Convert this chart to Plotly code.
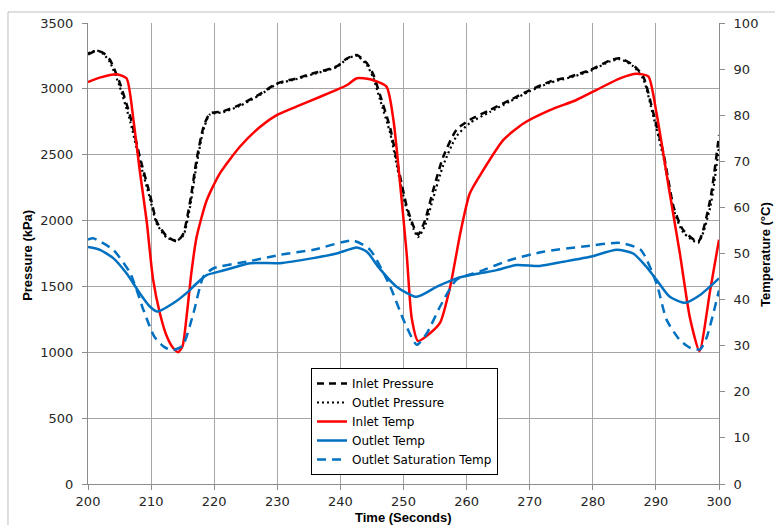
import plotly.graph_objects as go

# ---------------- data ----------------
t_inlet_p = [200, 201.4, 202.5, 203.5, 205.0, 206.7, 208.2, 209.8, 210.9, 212.5, 214.1, 215.1, 216.2, 217.2,
             218.3, 219.3, 221.4, 224.1, 227.3, 229.9, 233.1, 235.7, 239.4, 241.0, 242.6, 244.2, 245.2,
             246.3, 247.9, 249.4, 250.5, 251.6, 252.3, 253.4, 254.7, 256.3, 258.4, 260.5, 263.7, 266.9,
             270.0, 273.2, 276.4, 279.6, 282.7, 284.3, 286.4, 288.0, 289.6, 291.2, 292.8, 294.3, 296.7,
             298.6, 300]
inlet_pressure = [3262, 3290, 3270, 3219, 3050, 2790, 2485, 2200, 1990, 1880, 1842, 1900, 2150, 2460,
                  2710, 2812, 2830, 2880, 2962, 3040, 3080, 3118, 3170, 3230, 3257, 3194, 3110,
                  2950, 2700, 2350, 2110, 1955, 1892, 2000, 2230, 2485, 2690, 2765, 2840, 2915,
                  2990, 3055, 3093, 3143, 3215, 3232, 3181, 3093, 2815, 2511, 2105, 1930, 1840,
                  2157, 2650]

outlet_pressure = [3268, 3292, 3262, 3200, 3020, 2750, 2450, 2170, 1975, 1870, 1850, 1885, 2110, 2420,
                   2690, 2805, 2822, 2872, 2955, 3035, 3075, 3112, 3165, 3225, 3252, 3180, 3085,
                   2915, 2660, 2310, 2085, 1935, 1875, 1960, 2170, 2420, 2640, 2740, 2825, 2905,
                   2982, 3046, 3086, 3136, 3208, 3225, 3172, 3075, 2790, 2480, 2085, 1912, 1832,
                   2100, 2560]

t_inlet_t = [200, 202, 204.5, 206.1, 207.2, 208.2, 209.3, 210.3, 211.4, 212.5, 213.5, 214.3, 215.0, 215.6,
             216.4, 217.2, 218.8, 220.9, 224.1, 227.3, 229.9, 233.1, 236.8, 239.4, 241.0, 242.6, 244.7,
             247.3, 248.4, 249.4, 250.5, 251.3, 252.3, 254.2, 255.8, 257.4, 259.0, 260.5, 262.6, 265.8,
             269.0, 273.2, 277.4, 280.6, 284.3, 286.9, 288.8, 290.1, 292.2, 293.8, 295.4, 296.9, 298.6,
             300]
inlet_temp = [87.2, 88.2, 88.9, 88.0, 79.0, 68.0, 57.0, 44.5, 37.0, 32.0, 29.5, 28.6, 30.0, 36.0,
              46.0, 53.5, 61.5, 67.4, 73.2, 77.5, 80.0, 81.9, 84.0, 85.5, 86.5, 88.0, 87.8,
              86.2, 79.0, 66.0, 50.0, 36.0, 31.0, 32.7, 35.0, 42.8, 54.4, 63.0, 68.0, 74.6,
              78.2, 81.1, 83.3, 85.5, 88.0, 89.0, 88.4, 80.4, 63.0, 50.0, 36.0, 28.8, 42.0,
              53.0]

t_outlet_t = [200, 201.9, 204.0, 206.1, 208.2, 209.8, 211.0, 213.5, 215.6, 217.2, 218.8, 221.4, 225.7,
              230.4, 235.7, 239.4, 242.6, 244.2, 246.0, 248.9, 252.1, 255.3, 258.4, 262.1, 264.8, 267.9,
              271.6, 275.3, 279.6, 283.8, 286.4, 288.5, 290.1, 292.2, 294.6, 297.0, 300]
outlet_temp = [51.4, 50.8, 49.0, 45.7, 41.4, 38.5, 37.4, 39.2, 41.4, 43.5, 45.3, 46.3, 47.9,
               47.9, 49.0, 50.0, 51.3, 50.4, 47.1, 42.8, 40.6, 42.8, 44.6, 45.7, 46.4, 47.5,
               47.3, 48.2, 49.3, 50.8, 50.0, 47.1, 44.3, 40.6, 39.3, 41.0, 44.6]

t_sat_t = [200, 200.8, 204.0, 206.7, 208.8, 210.5, 212.0, 213.3, 215.0, 216.7, 218.3, 219.9, 225.1, 230.4,
           235.7, 242.0, 244.7, 247.9, 250.0, 252.1, 253.7, 255.8, 258.4, 262.1, 266.9, 272.2, 278.5,
           284.3, 287.6, 290.1, 291.7, 293.8, 295.5, 297.0, 298.0, 300]
outlet_sat_temp = [53.0, 53.3, 50.8, 45.7, 37.7, 32.0, 29.8, 29.0, 30.0, 37.0, 45.0, 46.8, 48.2, 49.7,
                   50.8, 52.8, 50.8, 42.8, 35.6, 30.2, 32.7, 38.5, 44.3, 46.1, 48.6, 50.4, 51.5,
                   52.3, 50.8, 43.5, 35.6, 31.2, 29.5, 29.2, 31.6, 42.0]

x_ticks = [200, 210, 220, 230, 240, 250, 260, 270, 280, 290, 300]

# ---------------- figure ----------------
fig = go.Figure()
fig.add_trace(go.Scatter(x=t_inlet_p, y=inlet_pressure, name="Inlet Pressure", mode="lines",
                         line=dict(color="black", width=2.5, dash="7px,5px", shape="spline", smoothing=0.6)))
fig.add_trace(go.Scatter(x=t_inlet_p, y=outlet_pressure, name="Outlet Pressure", mode="lines",
                         line=dict(color="black", width=2.2, dash="2px,3px", shape="spline", smoothing=0.6)))
fig.add_trace(go.Scatter(x=t_inlet_t, y=inlet_temp, name="Inlet Temp", mode="lines", yaxis="y2",
                         line=dict(color="#FF0000", width=2.5, shape="spline", smoothing=0.6)))
fig.add_trace(go.Scatter(x=t_outlet_t, y=outlet_temp, name="Outlet Temp", mode="lines", yaxis="y2",
                         line=dict(color="#0070C0", width=2.5, shape="spline", smoothing=0.6)))
fig.add_trace(go.Scatter(x=t_sat_t, y=outlet_sat_temp, name="Outlet Saturation Temp", mode="lines", yaxis="y2",
                         line=dict(color="#0070C0", width=2.5, dash="9px,6px", shape="spline", smoothing=0.6)))

tickfont = dict(family="DejaVu Sans", size=13, color="#262626")

fig.update_layout(
    width=775, height=525,
    margin=dict(l=88, r=56, t=23, b=41),
    paper_bgcolor="white", plot_bgcolor="white",
    showlegend=True,
    legend=dict(x=0.3534, y=0.2516, xanchor="left", yanchor="top",
                bgcolor="white", bordercolor="black", borderwidth=1,
                font=dict(family="DejaVu Sans", size=12, color="black"),
                itemwidth=30, tracegroupgap=0),
    xaxis=dict(range=[200, 300], tickvals=x_ticks, showgrid=True, gridcolor="#a6a6a6", gridwidth=1,
               showline=True, linecolor="#8c8c8c", linewidth=1, ticks="outside", ticklen=5,
               tickcolor="#8c8c8c", tickfont=tickfont, zeroline=False),
    yaxis=dict(range=[0, 3500], dtick=500, showgrid=True, gridcolor="#a6a6a6", gridwidth=1,
               showline=True, linecolor="#8c8c8c", linewidth=1, ticks="outside", ticklen=5,
               tickcolor="#8c8c8c", tickfont=tickfont, zeroline=False, ticklabelstandoff=6),
    yaxis2=dict(range=[0, 100], dtick=10, overlaying="y", side="right", showgrid=False,
                showline=True, linecolor="#8c8c8c", linewidth=1, ticks="outside", ticklen=5,
                tickcolor="#8c8c8c", tickfont=tickfont, zeroline=False, ticklabelstandoff=6),
)

title_font = dict(family="Liberation Sans Narrow, Liberation Sans", size=13, color="black")
fig.add_annotation(text="<b>Time (Seconds)</b>", xref="paper", yref="paper", x=0.5, y=-0.072,
                   xanchor="center", yanchor="middle", showarrow=False, font=title_font)
fig.add_annotation(text="<b>Pressure (kPa)</b>", xref="paper", yref="paper", x=-0.0951, y=0.497,
                   xanchor="center", yanchor="middle", textangle=-90, showarrow=False, font=title_font)
fig.add_annotation(text="<b>Temperature (°C)</b>", xref="paper", yref="paper", x=1.0745, y=0.497,
                   xanchor="center", yanchor="middle", textangle=-90, showarrow=False, font=title_font)

fig.add_shape(type="rect", xref="paper", yref="paper", x0=-0.1268, x1=1.3, y0=-0.3, y1=1.0239,
              line=dict(color="#bfbfbf", width=1), layer="below")

fig.write_html("out.html")
